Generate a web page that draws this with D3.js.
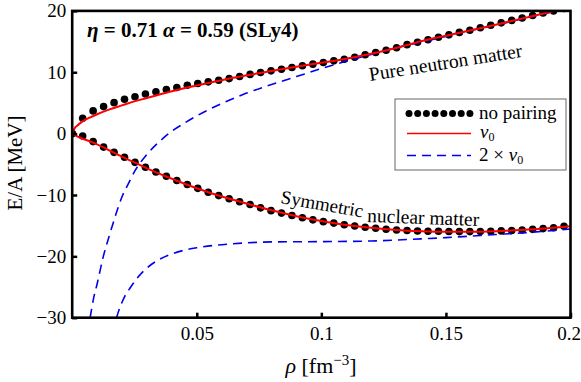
<!DOCTYPE html>
<html>
<head>
<meta charset="utf-8">
<script src="https://cdn.jsdelivr.net/npm/d3@7"></script>
<style>
  body { margin: 0; background: #fff; }
  svg, svg text { font-family: "Liberation Serif", "Times New Roman", serif; }
  svg { display: block; }
</style>
</head>
<body>
<div id="chart"></div>
<script>
// density grid of the "no pairing" points (fm^-3)
const dotRho = [0, 0.0042, 0.0084, 0.0126, 0.0168, 0.021, 0.0252, 0.0294, 0.0336, 0.0378,
    0.042, 0.0462, 0.0504, 0.0546, 0.0588, 0.063, 0.0672, 0.0714, 0.0756, 0.0798,
    0.084, 0.0882, 0.0924, 0.0966, 0.1008, 0.105, 0.1092, 0.1134, 0.1176, 0.1218,
    0.126, 0.1302, 0.1344, 0.1386, 0.1428, 0.147, 0.1512, 0.1554, 0.1596, 0.1638,
    0.168, 0.1722, 0.1764, 0.1806, 0.1848, 0.189, 0.1932, 0.1974];

// no pairing, pure neutron matter
const pnmDots = [0, 2.5, 3.7, 4.4, 5.05, 5.6, 6.0, 6.45, 6.82, 7.2,
    7.52, 7.88, 8.18, 8.44, 8.7, 8.97, 9.3, 9.65, 9.95, 10.23,
    10.5, 10.78, 11.05, 11.32, 11.6, 11.86, 12.12, 12.45, 12.85, 13.22,
    13.58, 14.0, 14.5, 14.9, 15.3, 15.7, 16.1, 16.5, 16.85, 17.25,
    17.65, 18.05, 18.45, 18.85, 19.25, 19.65, 20.0, 20.4];

// no pairing, symmetric nuclear matter
const snmDots = [0, -0.4, -1.3, -2.2, -3.05, -3.85, -4.68, -5.48, -6.25, -6.95,
    -7.65, -8.3, -8.92, -9.55, -10.1, -10.62, -11.1, -11.55, -12.1, -12.55,
    -12.95, -13.35, -13.72, -14.05, -14.35, -14.58, -14.85, -15.05, -15.25, -15.42,
    -15.58, -15.7, -15.8, -15.87, -15.9, -15.92, -15.95, -15.97, -15.97, -15.97,
    -15.9, -15.85, -15.8, -15.7, -15.6, -15.48, -15.33, -15.1];

// v0 curves
const lineRho = [0, 0.001, 0.002, 0.004, 0.007, 0.01, 0.015, 0.02, 0.025, 0.03,
    0.04, 0.05, 0.06, 0.07, 0.08, 0.09, 0.1, 0.11, 0.12, 0.13,
    0.14, 0.15, 0.16, 0.17, 0.18, 0.19, 0.2];
const pnmV0 = [0, 0.9, 1.3, 1.95, 2.6, 3.15, 3.95, 4.6, 5.25, 5.8,
    6.9, 7.85, 8.7, 9.5, 10.2, 10.9, 11.55, 12.2, 13.0, 13.95,
    15.05, 15.95, 16.85, 17.75, 18.7, 19.65, 20.6];
const snmV0 = [0, -0.2, -0.45, -0.8, -1.25, -1.75, -2.75, -3.75, -4.7, -5.65,
    -7.35, -8.9, -10.25, -11.4, -12.5, -13.45, -14.25, -14.9, -15.35, -15.7,
    -15.9, -16.0, -16.0, -15.9, -15.7, -15.45, -15.1];

// 2 x v0 curves
const pnm2Rho = [0.0072, 0.0085, 0.01, 0.0125, 0.015, 0.0175, 0.02, 0.0225, 0.025, 0.03,
    0.035, 0.04, 0.045, 0.05, 0.06, 0.07, 0.08, 0.09, 0.1, 0.11,
    0.12, 0.13, 0.14, 0.15, 0.16, 0.17, 0.18, 0.19, 0.2];
const pnm2V0 = [-30, -27, -24.5, -20, -16.5, -13.2, -10.3, -8.2, -6.2, -3.4,
    -1.3, 0.4, 1.7, 2.9, 4.9, 6.6, 8.0, 9.3, 10.6, 11.8,
    12.9, 14.0, 14.9, 15.85, 16.8, 17.7, 18.65, 19.6, 20.55];
const snm2Rho = [0.0178, 0.019, 0.021, 0.0235, 0.026, 0.03, 0.035, 0.04, 0.045, 0.05,
    0.06, 0.07, 0.08, 0.1, 0.12, 0.13, 0.14, 0.15, 0.16, 0.17,
    0.18, 0.19, 0.2];
const snm2V0 = [-30, -28.5, -26.6, -25, -23.6, -21.9, -20.5, -19.6, -19.0, -18.6,
    -18.1, -17.8, -17.65, -17.6, -17.5, -17.35, -17.15, -16.95, -16.7, -16.45,
    -16.2, -15.9, -15.55];

const xTicks = [0.05, 0.1, 0.15, 0.2];
const yTicks = [-30, -20, -10, 0, 10, 20];

const serif = '"Liberation Serif", "Times New Roman", serif';
const width = 581;
const height = 382;
const margin = { top: 10.9, right: 10.5, bottom: 64.3, left: 72.2 };

const xScale = d3.scaleLinear().domain([0, 0.2]).range([margin.left, width - margin.right]);
const yScale = d3.scaleLinear().domain([-30, 20]).range([height - margin.bottom, margin.top]);

const svg = d3.select("#chart").append("svg")
    .attr("width", width)
    .attr("height", height)
    .attr("font-family", serif);

svg.append("clipPath").attr("id", "plot-clip")
    .append("rect")
    .attr("x", margin.left).attr("y", margin.top)
    .attr("width", width - margin.left - margin.right)
    .attr("height", height - margin.top - margin.bottom);

const plot = svg.append("g").attr("clip-path", "url(#plot-clip)");

const line = d3.line()
    .x(d => xScale(d[0]))
    .y(d => yScale(d[1]))
    .curve(d3.curveMonotoneX);

const zip = (xs, ys) => xs.map((x, i) => [x, ys[i]]);

// dots first, lines on top
[pnmDots, snmDots].forEach(vals => {
    plot.append("g").selectAll("circle")
        .data(zip(dotRho, vals))
        .join("circle")
        .attr("cx", d => xScale(d[0]))
        .attr("cy", d => yScale(d[1]))
        .attr("r", 3.8)
        .attr("fill", "#000");
});

[[pnm2Rho, pnm2V0], [snm2Rho, snm2V0]].forEach(([xs, ys]) => {
    plot.append("path")
        .attr("d", line(zip(xs, ys)))
        .attr("fill", "none")
        .attr("stroke", "#0000ee")
        .attr("stroke-width", 1.6)
        .attr("stroke-dasharray", "9,6");
});

[pnmV0, snmV0].forEach(ys => {
    plot.append("path")
        .attr("d", line(zip(lineRho, ys)))
        .attr("fill", "none")
        .attr("stroke", "#ff0000")
        .attr("stroke-width", 2);
});

// axes (ticks point inward)
const xAxis = svg.append("g")
    .attr("transform", `translate(0, ${height - margin.bottom})`)
    .call(d3.axisBottom(xScale).tickValues(xTicks).tickSize(-5).tickPadding(9).tickFormat(d3.format("")));
const yAxis = svg.append("g")
    .attr("transform", `translate(${margin.left}, 0)`)
    .call(d3.axisLeft(yScale).tickValues(yTicks).tickSize(-5).tickPadding(6));

[xAxis, yAxis].forEach(ax => {
    ax.attr("font-family", serif).attr("font-size", 19);
    ax.select(".domain").remove();
    ax.selectAll("line").attr("stroke", "#000").attr("stroke-width", 2.5);
    ax.selectAll("text").attr("fill", "#000");
});
// last label sits at the window edge: keep it just inside
xAxis.selectAll("text").filter(d => d === 0.2).attr("text-anchor", "end").attr("x", 10);

// frame
svg.append("rect")
    .attr("x", margin.left).attr("y", margin.top)
    .attr("width", width - margin.left - margin.right)
    .attr("height", height - margin.top - margin.bottom)
    .attr("fill", "none")
    .attr("stroke", "#000")
    .attr("stroke-width", 2.6);

// axis titles
const xTitle = svg.append("text")
    .attr("x", 321).attr("y", 373)
    .attr("text-anchor", "middle")
    .style("font-size", "22px");
xTitle.append("tspan").attr("font-style", "italic").text("ρ");
xTitle.append("tspan").text(" [fm");
xTitle.append("tspan").attr("dy", -8).style("font-size", "15px").text("−3");
xTitle.append("tspan").attr("dy", 8).text("]");

svg.append("text")
    .attr("transform", "translate(22, 163) rotate(-90)")
    .attr("text-anchor", "middle")
    .style("font-size", "21px")
    .text("E/A [MeV]");

// header
const title = svg.append("text")
    .attr("x", 87).attr("y", 37)
    .attr("font-weight", "bold")
    .style("font-size", "21px");
title.append("tspan").attr("font-style", "italic").text("η");
title.append("tspan").text(" = 0.71 ");
title.append("tspan").attr("font-style", "italic").text("α");
title.append("tspan").text(" = 0.59 (SLy4)");

// curve labels
svg.append("text")
    .attr("transform", "translate(370, 81) rotate(-9)")
    .style("font-size", "19.5px")
    .text("Pure neutron matter");
svg.append("text")
    .attr("transform", "translate(280, 203) rotate(10)")
    .style("font-size", "19px")
    .text("Symmetric");
svg.append("text")
    .attr("transform", "translate(367, 222) rotate(2)")
    .style("font-size", "19.5px")
    .text("nuclear matter");

// legend
const legend = svg.append("g");
legend.append("rect")
    .attr("x", 395).attr("y", 99)
    .attr("width", 171).attr("height", 71)
    .attr("fill", "#fff")
    .attr("stroke", "#666")
    .attr("stroke-width", 1);

const legendDots = [0, 1, 2, 3, 4, 5, 6, 7];
legend.selectAll("circle")
    .data(legendDots)
    .join("circle")
    .attr("cx", d => 409 + d * 8.7)
    .attr("cy", 113.5)
    .attr("r", 3.5)
    .attr("fill", "#000");

legend.append("line")
    .attr("x1", 407).attr("x2", 471).attr("y1", 133.5).attr("y2", 133.5)
    .attr("stroke", "#ff0000").attr("stroke-width", 1.5);
legend.append("line")
    .attr("x1", 407).attr("x2", 471).attr("y1", 155.5).attr("y2", 155.5)
    .attr("stroke", "#0000ee").attr("stroke-width", 1.5)
    .attr("stroke-dasharray", "9,6");

legend.append("text")
    .attr("x", 479).attr("y", 119)
    .style("font-size", "19px")
    .text("no pairing");

const lv0 = legend.append("text")
    .attr("x", 480).attr("y", 138)
    .style("font-size", "19px");
lv0.append("tspan").attr("font-style", "italic").text("v");
lv0.append("tspan").attr("dy", 3).style("font-size", "12px").text("0");

const l2v0 = legend.append("text")
    .attr("x", 479).attr("y", 161)
    .style("font-size", "19px");
l2v0.append("tspan").text("2 × ");
l2v0.append("tspan").attr("font-style", "italic").text("v");
l2v0.append("tspan").attr("dy", 3).style("font-size", "12px").text("0");
</script>
</body>
</html>
